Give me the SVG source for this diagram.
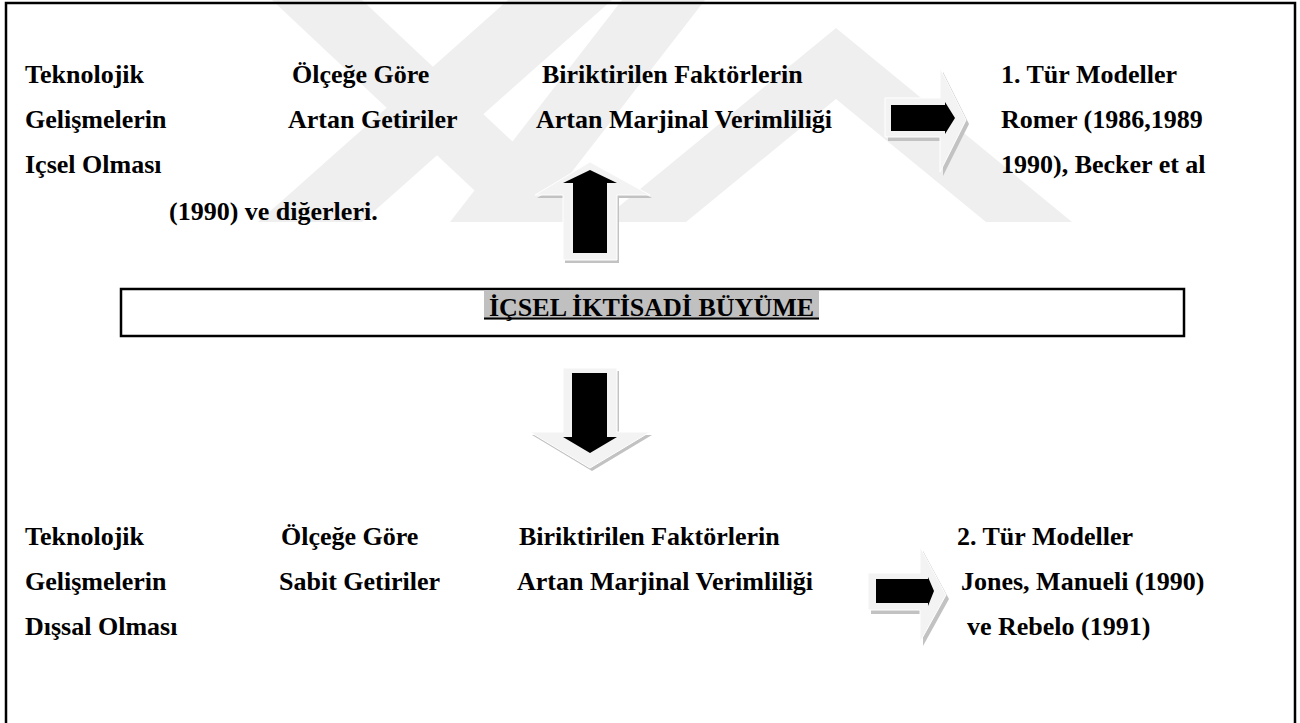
<svg xmlns="http://www.w3.org/2000/svg" width="1300" height="723" viewBox="0 0 1300 723">
<style>
.t{font-family:"Liberation Serif","Times New Roman",serif;font-weight:bold;font-size:26px;fill:#000}
.wm{fill:#efefef}
.sh{fill:#c2c2c2}
.lt{fill:#f3f3f3;stroke:#ffffff;stroke-width:1}
.bk{fill:#000}
.frame{fill:none;stroke:#000;stroke-width:2.5}
</style>
<rect width="1300" height="723" fill="#fff"/>
<g id="watermark">
<polygon class="wm" points="272,0 362,0 598,222 508,222"/>
<polygon class="wm" points="508,0 612,0 362,222 258,222"/>
<polygon class="wm" points="622,0 705,0 533,222 450,222"/>
<polygon class="wm" points="836,28 1072,222 986,222 836,99 686,222 600,222"/>
</g>
<path class="frame" d="M6,723 V3 H1295 V723"/>
<g id="n-top-tech">
<text class="t" x="25" y="83">Teknolojik</text>
<text class="t" x="25" y="128">Gelişmelerin</text>
<text class="t" x="25" y="173">Içsel Olması</text>
</g>
<g id="n-top-scale">
<text class="t" x="292" y="83">Ölçeğe Göre</text>
<text class="t" x="288" y="128">Artan Getiriler</text>
</g>
<g id="n-top-factors">
<text class="t" x="542" y="83">Biriktirilen Faktörlerin</text>
<text class="t" x="536" y="128">Artan Marjinal Verimliliği</text>
</g>
<g id="n-top-models">
<text class="t" x="1001" y="83">1. Tür Modeller</text>
<text class="t" x="1001" y="128">Romer (1986,1989</text>
<text class="t" x="1001" y="173">1990), Becker et al</text>
<text class="t" x="169" y="220">(1990) ve diğerleri.</text>
</g>
<g id="n-growth">
<rect x="121" y="289" width="1063" height="47" class="frame"/>
<rect x="484" y="290.5" width="335" height="29" fill="#c0c0c0"/>
<text class="t" x="651.5" y="316" text-anchor="middle">İÇSEL İKTİSADİ BÜYÜME</text>
<line x1="484" y1="318.5" x2="819" y2="318.5" stroke="#000" stroke-width="2"/>
</g>
<g id="n-bottom-tech">
<text class="t" x="25" y="545">Teknolojik</text>
<text class="t" x="25" y="590">Gelişmelerin</text>
<text class="t" x="25" y="635">Dışsal Olması</text>
</g>
<g id="n-bottom-scale">
<text class="t" x="281" y="545">Ölçeğe Göre</text>
<text class="t" x="279" y="590">Sabit Getiriler</text>
</g>
<g id="n-bottom-factors">
<text class="t" x="519" y="545">Biriktirilen Faktörlerin</text>
<text class="t" x="517" y="590">Artan Marjinal Verimliliği</text>
</g>
<g id="n-bottom-models">
<text class="t" x="957" y="545">2. Tür Modeller</text>
<text class="t" x="961" y="590">Jones, Manueli (1990)</text>
<text class="t" x="967" y="635">ve Rebelo (1991)</text>
</g>
<g id="connectors">
<g id="arrow-up">
<polygon class="sh" points="592,165 652,198 619,198 619,263 565,263 565,198 537,198"/>
<polygon class="lt" points="590,162 650,195 617,195 617,260 563,260 563,195 535,195"/>
<polygon class="bk" points="590,170 617,183 607,183 607,253 573,253 573,183 563,183"/>
</g>
<g id="arrow-down">
<polygon class="sh" points="565,371 619,371 619,435 652,435 592,471 532,435 565,435"/>
<polygon class="lt" points="563,368 617,368 617,432 650,432 590,468 530,432 563,432"/>
<polygon class="bk" points="572,373 607,373 607,437 617,437 590,453 563,437 572,437"/>
</g>
<g id="arrow-right-top">
<polygon class="sh" points="888,102 943,102 943,72 969,124 943,176 943,141 888,141"/>
<polygon class="lt" points="885,98 940,98 940,68 966,120 940,172 940,137 885,137"/>
<polygon class="bk" points="891,105 945,105 945,102 955,118 945,134 945,131 891,131"/>
</g>
<g id="arrow-right-bottom">
<polygon class="sh" points="871,577 923,577 923,551 949,599 923,646 923,614 871,614"/>
<polygon class="lt" points="868,573 920,573 920,547 946,595 920,642 920,610 868,610"/>
<polygon class="bk" points="876,579 928,579 928,577 934,591 928,606 928,603 876,603"/>
</g>
</g>
</svg>
